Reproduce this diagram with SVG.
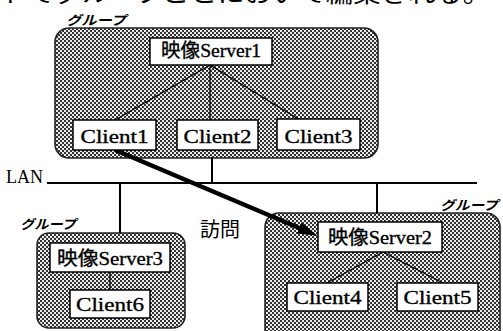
<svg xmlns="http://www.w3.org/2000/svg" width="503" height="331" viewBox="0 0 503 331">
<defs>
<pattern id="hatch" width="4" height="4" patternUnits="userSpaceOnUse">
<rect width="4" height="4" fill="#ececec"/>
<rect x="0" y="0" width="2" height="2" fill="#333"/>
<rect x="2" y="2" width="2" height="2" fill="#333"/>
</pattern>
<marker id="head" markerUnits="userSpaceOnUse" markerWidth="20" markerHeight="12" refX="2" refY="6" orient="auto">
<path d="M0,0 L20,6 L0,12 z" fill="#000"/>
</marker>
<style>
.grp{fill:url(#hatch);stroke:#222;stroke-width:1.6}
.box{fill:#fff;stroke:#000;stroke-width:1.5}
.lbl{font-family:"Liberation Serif","Noto Sans CJK JP",serif;font-size:19px;fill:#000;stroke:#000;stroke-width:0.35;text-anchor:middle}
.glbl{font-family:"Noto Sans CJK JP",sans-serif;font-size:13px;font-weight:bold;font-style:italic;fill:#000}
.tree{stroke:#000;stroke-width:1.3;fill:none}
.net{stroke:#000;stroke-width:2;fill:none}
.txt{font-family:"Liberation Serif",serif;font-size:18px;fill:#000}
</style>
</defs>
<rect width="503" height="331" fill="#fff"/>
<text x="0" y="2" font-family="Noto Sans CJK JP, sans-serif" font-size="24" textLength="490" lengthAdjust="spacingAndGlyphs">トでグループごとにおいて編集される。</text>

<g id="group1">
<rect class="grp" x="55" y="28" width="323" height="130" rx="14"/>
<text class="glbl" x="66" y="25" textLength="60" lengthAdjust="spacingAndGlyphs">グループ</text>
</g>
<g id="group3">
<rect class="grp" x="37" y="233" width="148" height="95" rx="12"/>
<text class="glbl" x="20" y="229" textLength="56" lengthAdjust="spacingAndGlyphs">グループ</text>
</g>
<g id="group2">
<rect class="grp" x="265" y="213" width="235" height="130" rx="14"/>
<text class="glbl" x="440" y="210" textLength="58" lengthAdjust="spacingAndGlyphs">グループ</text>
</g>

<g id="connectors">
<line class="net" x1="47" y1="183" x2="477" y2="183"/>
<line class="net" x1="212" y1="157" x2="212" y2="183"/>
<line class="net" x1="120" y1="183" x2="120" y2="233"/>
<line class="net" x1="377" y1="183" x2="377" y2="213"/>
<line class="tree" x1="210" y1="65" x2="115" y2="120"/>
<line class="tree" x1="210" y1="65" x2="210" y2="120"/>
<line class="tree" x1="210" y1="65" x2="300" y2="120"/>
<line class="tree" x1="383" y1="252" x2="327" y2="283"/>
<line class="tree" x1="383" y1="252" x2="443" y2="283"/>
<line class="tree" x1="110" y1="272" x2="110" y2="290"/>
<line x1="115" y1="150" x2="301" y2="228.8" stroke="#000" stroke-width="4.5" marker-end="url(#head)"/>
</g>

<text class="txt" x="6" y="183" textLength="37" lengthAdjust="spacingAndGlyphs">LAN</text>
<text x="200" y="237" font-family="Noto Sans CJK JP, sans-serif" font-size="20" fill="#000">訪問</text>

<g id="server1">
<rect class="box" x="150" y="38" width="122" height="27"/>
<text class="lbl" x="211" y="57" font-size="17" textLength="100" lengthAdjust="spacingAndGlyphs">映像Server1</text>
</g>
<g id="client1">
<rect class="box" x="73" y="120" width="83" height="30"/>
<text class="lbl" x="114.5" y="143" textLength="68" lengthAdjust="spacingAndGlyphs">Client1</text>
</g>
<g id="client2">
<rect class="box" x="177" y="120" width="81" height="30"/>
<text class="lbl" x="217.5" y="143" textLength="68" lengthAdjust="spacingAndGlyphs">Client2</text>
</g>
<g id="client3">
<rect class="box" x="277" y="119" width="83" height="31"/>
<text class="lbl" x="318.5" y="143" textLength="68" lengthAdjust="spacingAndGlyphs">Client3</text>
</g>
<g id="server2">
<rect class="box" x="318" y="222" width="124" height="30"/>
<text class="lbl" x="380" y="244" font-size="17" textLength="104" lengthAdjust="spacingAndGlyphs">映像Server2</text>
</g>
<g id="client4">
<rect class="box" x="287" y="283" width="81" height="28"/>
<text class="lbl" x="327.5" y="304" textLength="68" lengthAdjust="spacingAndGlyphs">Client4</text>
</g>
<g id="client5">
<rect class="box" x="397" y="283" width="81" height="28"/>
<text class="lbl" x="437.5" y="304" textLength="68" lengthAdjust="spacingAndGlyphs">Client5</text>
</g>
<g id="server3">
<rect class="box" x="50" y="243" width="120" height="29"/>
<text class="lbl" x="110" y="265" font-size="17" textLength="106" lengthAdjust="spacingAndGlyphs">映像Server3</text>
</g>
<g id="client6">
<rect class="box" x="70" y="290" width="80" height="28"/>
<text class="lbl" x="110" y="311" textLength="68" lengthAdjust="spacingAndGlyphs">Client6</text>
</g>
</svg>
